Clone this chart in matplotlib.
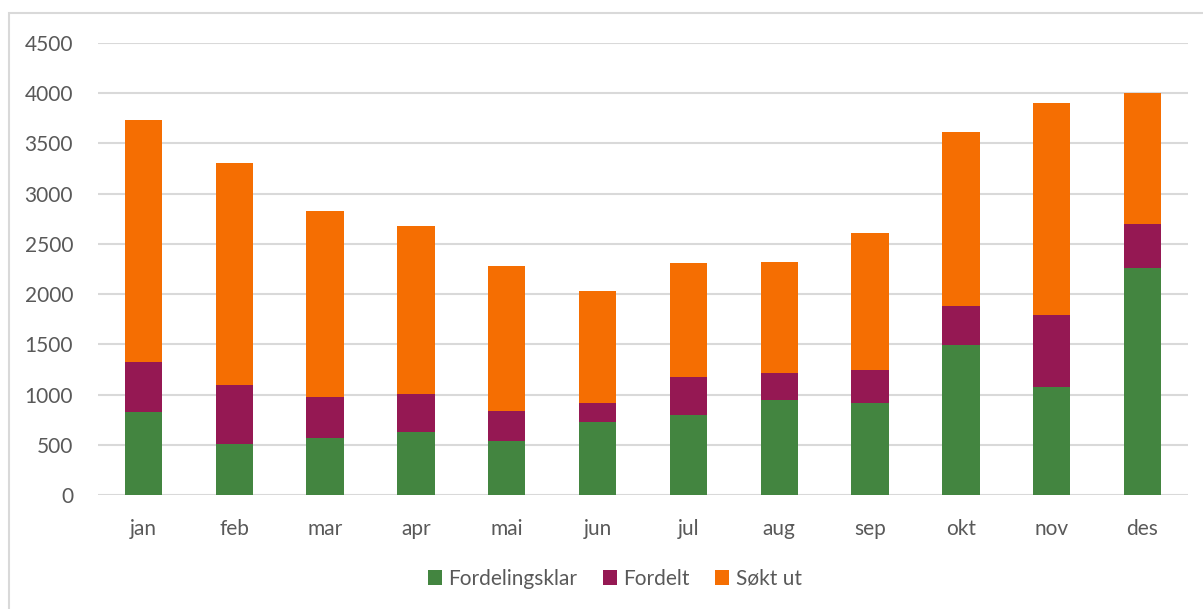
import numpy as np
import matplotlib
matplotlib.use('Agg')
import matplotlib.pyplot as plt
from matplotlib.patches import Rectangle

months = ['jan', 'feb', 'mar', 'apr', 'mai', 'jun',
          'jul', 'aug', 'sep', 'okt', 'nov', 'des']
# stacked parts
fordelingsklar = [828, 510, 570, 629, 540, 729, 798, 947, 917, 1494, 1077, 2259]
fordelt_top = [1328, 1096, 977, 1007, 838, 917, 1176, 1216, 1246, 1882, 1792, 2697]
totals = [3731, 3303, 2826, 2677, 2279, 2030, 2309, 2319, 2607, 3611, 3900, 3999]

fordelt = np.array(fordelt_top) - np.array(fordelingsklar)
sokt_ut = np.array(totals) - np.array(fordelt_top)

plt.rcParams['font.family'] = ['Lato', 'DejaVu Sans']
txt_col = '#595959'
grid_col = '#d9d9d9'
fs = 15

fig = plt.figure(figsize=(12.03, 6.09), dpi=100)
ax = fig.add_axes([0.0815, 0.1867, 0.906, 0.7433])

x = np.arange(len(months))
w = 0.41
ax.bar(x, fordelingsklar, w, color='#438540', label='Fordelingsklar', zorder=3)
ax.bar(x, fordelt, w, bottom=fordelingsklar, color='#951853', label='Fordelt', zorder=3)
ax.bar(x, sokt_ut, w, bottom=fordelt_top, color='#f56e02', label='Søkt ut', zorder=3)

ax.set_xlim(-0.5, len(months) - 0.5)
ax.set_ylim(0, 4500)
ax.set_yticks(np.arange(0, 4501, 500))
ax.set_xticks(x)
ax.set_xticklabels(months)
ax.grid(axis='y', color=grid_col, linewidth=1.5, zorder=0)
ax.tick_params(length=0, labelsize=fs, labelcolor=txt_col)
ax.tick_params(axis='x', pad=17)
ax.tick_params(axis='y', pad=18)
for s in ax.spines.values():
    s.set_visible(False)

leg = fig.legend(loc='center', bbox_to_anchor=(0.511, 0.05), ncol=3,
                 frameon=False, fontsize=fs, handlelength=0.7,
                 handleheight=0.7, handletextpad=0.3, columnspacing=1.2)
for t in leg.get_texts():
    t.set_color(txt_col)

# outer chart border
fig.patches.append(Rectangle((9 / 1203, -0.01), 1.2, (609 - 13) / 609 + 0.01,
                             transform=fig.transFigure, fill=False,
                             edgecolor=grid_col, linewidth=1.5))

plt.savefig('out.png', dpi=100)
